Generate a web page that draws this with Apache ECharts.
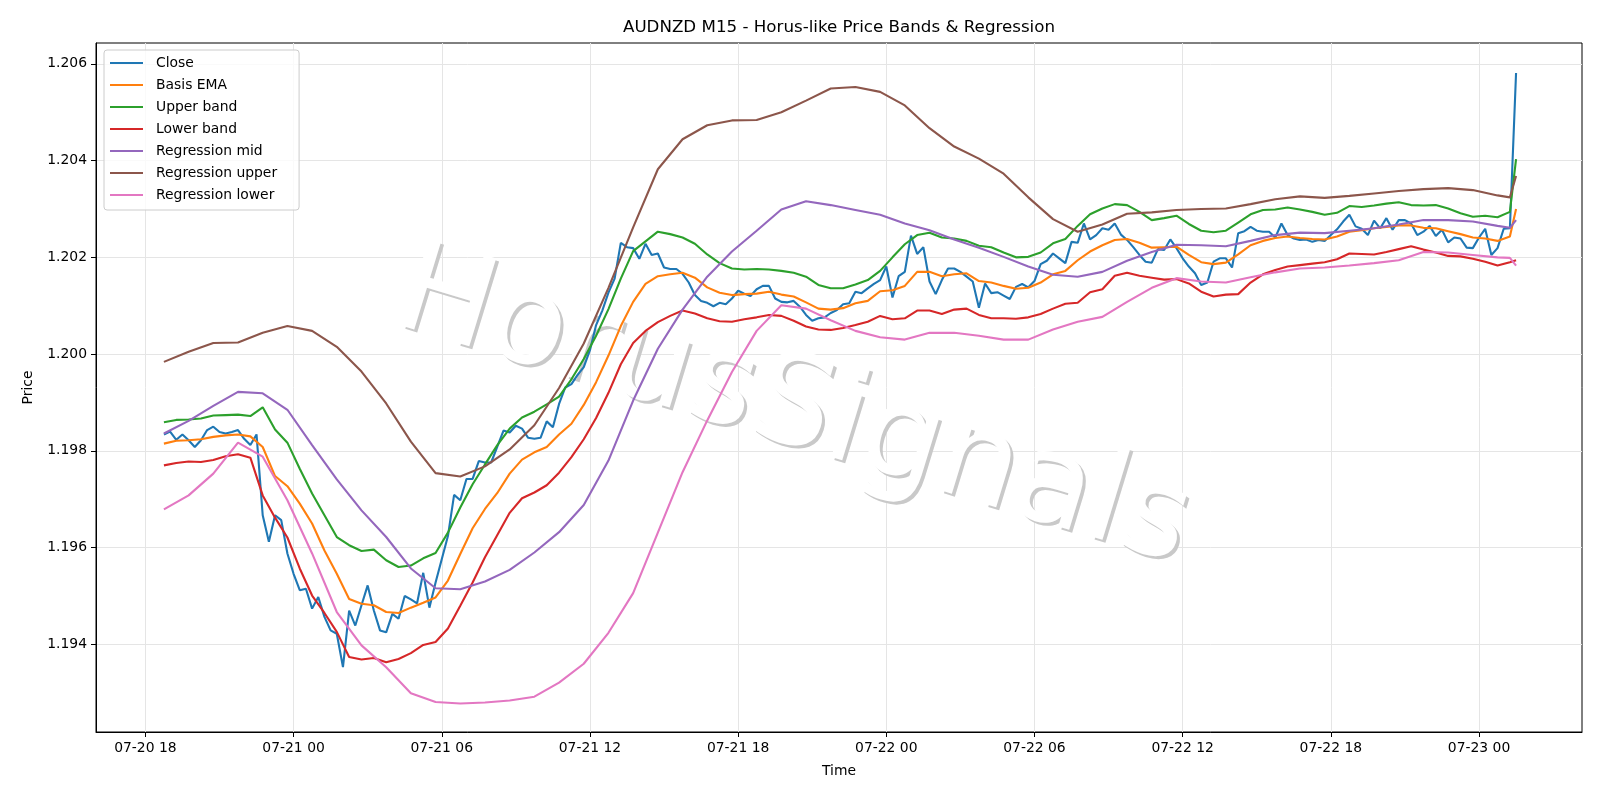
<!DOCTYPE html>
<html>
<head>
<meta charset="utf-8">
<title>AUDNZD M15 - Horus-like Price Bands & Regression</title>
<script src="https://cdn.jsdelivr.net/npm/echarts@6.0.0/dist/echarts.min.js"></script>
<style>
  html, body { margin: 0; padding: 0; background: #ffffff; }
  #chart { width: 1600px; height: 800px; }
</style>
</head>
<body>
<div id="chart"></div>
<script>
const FONT = 'DejaVu Sans'
const HOUR = 3600 * 1000
const BAR = 15 * 60 * 1000
const firstBar = Date.UTC(2025, 6, 20, 18, 45)   // first M15 bar
const dayStart = Date.UTC(2025, 6, 21, 0, 0)

const xTicks = [
  Date.UTC(2025, 6, 20, 18), Date.UTC(2025, 6, 21, 0), Date.UTC(2025, 6, 21, 6),
  Date.UTC(2025, 6, 21, 12), Date.UTC(2025, 6, 21, 18), Date.UTC(2025, 6, 22, 0),
  Date.UTC(2025, 6, 22, 6), Date.UTC(2025, 6, 22, 12), Date.UTC(2025, 6, 22, 18),
  Date.UTC(2025, 6, 23, 0)
]
const yTicks = [1.194, 1.196, 1.198, 1.200, 1.202, 1.204, 1.206]

const seriesNames = ['Close', 'Basis EMA', 'Upper band', 'Lower band',
  'Regression mid', 'Regression upper', 'Regression lower']
const seriesColors = ['#1f77b4', '#ff7f0e', '#2ca02c', '#d62728', '#9467bd', '#8c564b', '#e377c2']

// every 15 min bar
const closeValues = [
  1.19834, 1.19840, 1.19823, 1.19834, 1.19822, 1.19808, 1.19822, 1.19843, 1.19850, 1.19839,
  1.19836, 1.19839, 1.19843, 1.19825, 1.19812, 1.19834, 1.19667, 1.19612, 1.19667, 1.19657,
  1.19588, 1.19546, 1.19512, 1.19515, 1.19474, 1.19498, 1.19457, 1.19429, 1.19422, 1.19353,
  1.19470, 1.19439, 1.19481, 1.19522, 1.19470, 1.19429, 1.19425, 1.19463, 1.19453, 1.19500,
  1.19493, 1.19485, 1.19548, 1.19476, 1.19528, 1.19576, 1.19624, 1.19709, 1.19698, 1.19742,
  1.19742, 1.19779, 1.19776, 1.19776, 1.19809, 1.19842, 1.19838, 1.19852, 1.19846, 1.19827,
  1.19825, 1.19827, 1.19861, 1.19849, 1.19897, 1.19931, 1.19938, 1.19957, 1.19973, 1.20008,
  1.20060, 1.20090, 1.20127, 1.20156, 1.20230, 1.20221, 1.20219, 1.20197, 1.20228, 1.20205,
  1.20208, 1.20179, 1.20176, 1.20176, 1.20166, 1.20148, 1.20122, 1.20110, 1.20106, 1.20099,
  1.20106, 1.20103, 1.20115, 1.20131, 1.20125, 1.20120, 1.20134, 1.20141, 1.20141, 1.20115,
  1.20108, 1.20107, 1.20110, 1.20098, 1.20081, 1.20069, 1.20074, 1.20076, 1.20085, 1.20091,
  1.20103, 1.20105, 1.20129, 1.20126, 1.20136, 1.20145, 1.20153, 1.20181, 1.20117, 1.20161,
  1.20170, 1.20245, 1.20207, 1.20221, 1.20150, 1.20124, 1.20153, 1.20177, 1.20177, 1.20170,
  1.20160, 1.20150, 1.20096, 1.20146, 1.20126, 1.20128, 1.20121, 1.20114, 1.20139, 1.20145,
  1.20138, 1.20151, 1.20186, 1.20193, 1.20208, 1.20198, 1.20188, 1.20232, 1.20230, 1.20270,
  1.20237, 1.20246, 1.20260, 1.20257, 1.20270, 1.20247, 1.20236, 1.20221, 1.20205, 1.20191,
  1.20189, 1.20217, 1.20215, 1.20237, 1.20219, 1.20198, 1.20181, 1.20167, 1.20143, 1.20148,
  1.20191, 1.20198, 1.20198, 1.20179, 1.20250, 1.20254, 1.20263, 1.20255, 1.20253, 1.20253,
  1.20241, 1.20270, 1.20246, 1.20239, 1.20236, 1.20237, 1.20232, 1.20236, 1.20234, 1.20246,
  1.20258, 1.20274, 1.20288, 1.20264, 1.20259, 1.20246, 1.20276, 1.20260, 1.20281, 1.20257,
  1.20277, 1.20277, 1.20270, 1.20246, 1.20253, 1.20265, 1.20244, 1.20257, 1.20231, 1.20241,
  1.20239, 1.20220, 1.20219, 1.20241, 1.20259, 1.20205, 1.20219, 1.20259, 1.20260, 1.20581
]

// every 2nd bar (30 min) plus the last bar
const basisValues = [
  1.19815, 1.19821, 1.19822, 1.19824, 1.19829, 1.19832, 1.19834, 1.19830, 1.19808, 1.19748,
  1.19727, 1.19691, 1.19650, 1.19594, 1.19546, 1.19494, 1.19484, 1.19481, 1.19467, 1.19465,
  1.19476, 1.19486, 1.19497, 1.19532, 1.19587, 1.19640, 1.19680, 1.19713, 1.19753, 1.19782,
  1.19797, 1.19808, 1.19834, 1.19856, 1.19895, 1.19942, 1.19997, 1.20058, 1.20108, 1.20145,
  1.20161, 1.20165, 1.20168, 1.20158, 1.20138, 1.20127, 1.20122, 1.20124, 1.20125, 1.20129,
  1.20123, 1.20119, 1.20107, 1.20094, 1.20092, 1.20095, 1.20105, 1.20110, 1.20130, 1.20132,
  1.20141, 1.20170, 1.20170, 1.20161, 1.20165, 1.20167, 1.20151, 1.20148, 1.20141, 1.20135,
  1.20137, 1.20148, 1.20165, 1.20172, 1.20194, 1.20212, 1.20225, 1.20236, 1.20238, 1.20230,
  1.20220, 1.20221, 1.20222, 1.20205, 1.20190, 1.20186, 1.20189, 1.20206, 1.20225, 1.20234,
  1.20240, 1.20243, 1.20240, 1.20238, 1.20237, 1.20243, 1.20253, 1.20256, 1.20260, 1.20263,
  1.20266, 1.20266, 1.20261, 1.20260, 1.20254, 1.20248, 1.20241, 1.20239, 1.20234, 1.20243,
  1.20300
]
const upperValues = [
  1.19859, 1.19864, 1.19865, 1.19867, 1.19873, 1.19874, 1.19875, 1.19872, 1.19890, 1.19844,
  1.19817, 1.19763, 1.19712, 1.19667, 1.19622, 1.19605, 1.19593, 1.19596, 1.19574, 1.19560,
  1.19563, 1.19578, 1.19589, 1.19631, 1.19683, 1.19731, 1.19772, 1.19812, 1.19846, 1.19869,
  1.19881, 1.19896, 1.19912, 1.19948, 1.19990, 1.20038, 1.20093, 1.20156, 1.20213, 1.20233,
  1.20253, 1.20248, 1.20241, 1.20228, 1.20206, 1.20188, 1.20177, 1.20175, 1.20176, 1.20175,
  1.20172, 1.20168, 1.20160, 1.20143, 1.20136, 1.20136, 1.20144, 1.20153, 1.20172, 1.20200,
  1.20227, 1.20246, 1.20251, 1.20241, 1.20239, 1.20234, 1.20224, 1.20221, 1.20210, 1.20200,
  1.20201, 1.20210, 1.20229, 1.20238, 1.20265, 1.20289, 1.20301, 1.20310, 1.20308, 1.20294,
  1.20277, 1.20281, 1.20286, 1.20269, 1.20255, 1.20252, 1.20255, 1.20272, 1.20289, 1.20298,
  1.20299, 1.20303, 1.20299, 1.20294, 1.20288, 1.20292, 1.20306, 1.20304, 1.20307, 1.20311,
  1.20314, 1.20308, 1.20307, 1.20308, 1.20301, 1.20291, 1.20284, 1.20286, 1.20283, 1.20294,
  1.20403
]
const lowerValues = [
  1.19770, 1.19775, 1.19778, 1.19777, 1.19781, 1.19789, 1.19793, 1.19786, 1.19708, 1.19662,
  1.19621, 1.19557, 1.19501, 1.19465, 1.19426, 1.19374, 1.19369, 1.19372, 1.19363, 1.19370,
  1.19382, 1.19399, 1.19405, 1.19433, 1.19480, 1.19528, 1.19580, 1.19626, 1.19672, 1.19702,
  1.19714, 1.19729, 1.19755, 1.19787, 1.19824, 1.19868, 1.19920, 1.19979, 1.20023, 1.20048,
  1.20066, 1.20079, 1.20090, 1.20084, 1.20074, 1.20068, 1.20067, 1.20072, 1.20076, 1.20081,
  1.20079, 1.20069, 1.20057, 1.20051, 1.20050, 1.20054, 1.20060, 1.20067, 1.20079, 1.20072,
  1.20074, 1.20090, 1.20090, 1.20083, 1.20092, 1.20094, 1.20081, 1.20074, 1.20074, 1.20073,
  1.20076, 1.20083, 1.20094, 1.20104, 1.20106, 1.20128, 1.20134, 1.20162, 1.20168, 1.20162,
  1.20158, 1.20154, 1.20155, 1.20146, 1.20129, 1.20119, 1.20123, 1.20124, 1.20148, 1.20165,
  1.20174, 1.20181, 1.20184, 1.20187, 1.20190, 1.20196, 1.20208, 1.20207, 1.20206, 1.20211,
  1.20217, 1.20223, 1.20216, 1.20210, 1.20203, 1.20202, 1.20197, 1.20191, 1.20183, 1.20190,
  1.20194
]

// every 4th bar (hourly) plus the last two bars
const regMidValues = [
  1.19836, 1.19862, 1.19893, 1.19922, 1.19919, 1.19885, 1.19812, 1.19741, 1.19677, 1.19622,
  1.19557, 1.19516, 1.19514, 1.19530, 1.19554, 1.19590, 1.19632, 1.19688, 1.19780, 1.19904,
  1.20011, 1.20092, 1.20160, 1.20212, 1.20255, 1.20299, 1.20316, 1.20308, 1.20298, 1.20288,
  1.20270, 1.20256, 1.20237, 1.20220, 1.20201, 1.20181, 1.20164, 1.20160, 1.20170, 1.20193,
  1.20211, 1.20226, 1.20225, 1.20223, 1.20234, 1.20246, 1.20251, 1.20250, 1.20255, 1.20260,
  1.20268, 1.20277, 1.20277, 1.20274, 1.20265,
  1.20261, 1.20277
]
const regUpperValues = [
  1.19984, 1.20005, 1.20023, 1.20024, 1.20044, 1.20058, 1.20048, 1.20015, 1.19964, 1.19898,
  1.19819, 1.19754, 1.19747, 1.19768, 1.19803, 1.19853, 1.19930, 1.20022, 1.20137, 1.20262,
  1.20382, 1.20444, 1.20473, 1.20483, 1.20484, 1.20500, 1.20524, 1.20549, 1.20552, 1.20542,
  1.20514, 1.20467, 1.20429, 1.20404, 1.20373, 1.20324, 1.20279, 1.20253, 1.20268, 1.20290,
  1.20293, 1.20298, 1.20300, 1.20301, 1.20310, 1.20320, 1.20326, 1.20323, 1.20327, 1.20332,
  1.20337, 1.20341, 1.20343, 1.20339, 1.20328,
  1.20324, 1.20368
]
const regLowerValues = [
  1.19679, 1.19708, 1.19753, 1.19817, 1.19788, 1.19698, 1.19588, 1.19467, 1.19398, 1.19353,
  1.19299, 1.19281, 1.19278, 1.19280, 1.19284, 1.19292, 1.19321, 1.19360, 1.19424, 1.19506,
  1.19631, 1.19756, 1.19863, 1.19963, 1.20048, 1.20101, 1.20094, 1.20070, 1.20048, 1.20035,
  1.20030, 1.20044, 1.20044, 1.20038, 1.20030, 1.20030, 1.20051, 1.20067, 1.20077, 1.20108,
  1.20137, 1.20157, 1.20150, 1.20148, 1.20159, 1.20169, 1.20177, 1.20179, 1.20183, 1.20188,
  1.20194, 1.20211, 1.20210, 1.20205, 1.20200,
  1.20199, 1.20183
]

// bar numbers of the sampled series
const allBars = closeValues.map((v, i) => i)
const halfHourBars = []
for (let i = 0; i <= 218; i += 2) halfHourBars.push(i)
halfHourBars.push(219)
const hourBars = []
for (let i = 0; i <= 216; i += 4) hourBars.push(i)
hourBars.push(218, 219)

function toPoints(bars, values) {
  return values.map((v, k) => [firstBar + bars[k] * BAR, v])
}

function pad(n) {
  return String(n).padStart(2, '0')
}
function timeLabel(v) {
  const d = new Date(v)
  return pad(d.getUTCMonth() + 1) + '-' + pad(d.getUTCDate()) + ' ' + pad(d.getUTCHours())
}

const seriesData = [
  toPoints(allBars, closeValues),
  toPoints(halfHourBars, basisValues),
  toPoints(halfHourBars, upperValues),
  toPoints(halfHourBars, lowerValues),
  toPoints(hourBars, regMidValues),
  toPoints(hourBars, regUpperValues),
  toPoints(hourBars, regLowerValues)
]

// watermark: grey copy shifted down-right, white copy on top of it
const markAngle = -17 * Math.PI / 180
const markFont = '126px "DejaVu Sans"'
function watermark(dx, fill) {
  return {
    type: 'text',
    x: 793 + dx,
    y: 411 + dx,
    rotation: markAngle,
    z: 1,
    silent: true,
    style: {
      text: 'HorusSignals',
      fill: fill,
      font: markFont,
      textAlign: 'center',
      textVerticalAlign: 'middle'
    }
  }
}

const chart = echarts.init(document.getElementById('chart'), null, { renderer: 'canvas' })
chart.setOption({
  animation: false,
  backgroundColor: '#ffffff',
  textStyle: { fontFamily: FONT },
  grid: {
    left: 96,
    right: 18,
    top: 43,
    bottom: 68,
    show: true,
    borderColor: '#000000',
    borderWidth: 1,
    backgroundColor: 'transparent'
  },
  graphic: [
    {
      type: 'text',
      x: 839,
      y: 28,
      style: {
        text: 'AUDNZD M15 - Horus-like Price Bands & Regression',
        fill: '#000000',
        font: '16.7px "DejaVu Sans"',
        textAlign: 'center',
        textVerticalAlign: 'middle'
      }
    },
    watermark(3, '#c9c9c9'),
    watermark(0, '#ffffff')
  ],
  legend: {
    data: seriesNames,
    orient: 'vertical',
    left: 104,
    top: 50,
    icon: 'rect',
    itemWidth: 33,
    itemHeight: 2,
    itemGap: 6,
    padding: [5, 22, 7, 6],
    selectedMode: false,
    backgroundColor: 'rgba(255,255,255,0.8)',
    borderColor: '#cccccc',
    borderWidth: 1,
    borderRadius: 3,
    textStyle: {
      color: '#000000',
      fontSize: 13.9,
      fontFamily: FONT,
      lineHeight: 16,
      padding: [0, 0, 0, 8]
    }
  },
  xAxis: {
    type: 'value',
    min: dayStart - 8 * HOUR,
    max: dayStart + 52.17 * HOUR,
    name: 'Time',
    nameLocation: 'middle',
    nameGap: 32,
    nameTextStyle: { color: '#000000', fontSize: 13.9, fontFamily: FONT },
    axisLine: { show: true, onZero: false, lineStyle: { color: '#000000', width: 1 } },
    axisTick: { show: true, length: 5, customValues: xTicks, lineStyle: { color: '#000000', width: 1 } },
    axisLabel: {
      customValues: xTicks,
      formatter: timeLabel,
      color: '#000000',
      fontSize: 13.9,
      fontFamily: FONT,
      margin: 9
    },
    splitLine: { show: true, lineStyle: { color: '#e5e5e5', width: 1 } }
  },
  yAxis: {
    type: 'value',
    min: 1.19219,
    max: 1.20643,
    name: 'Price',
    nameLocation: 'middle',
    nameGap: 61,
    nameTextStyle: { color: '#000000', fontSize: 13.9, fontFamily: FONT },
    axisLine: { show: true, onZero: false, lineStyle: { color: '#000000', width: 1 } },
    axisTick: { show: true, length: 5, customValues: yTicks, lineStyle: { color: '#000000', width: 1 } },
    axisLabel: {
      customValues: yTicks,
      formatter: v => v.toFixed(3),
      color: '#000000',
      fontSize: 13.9,
      fontFamily: FONT,
      margin: 9
    },
    splitLine: { show: true, lineStyle: { color: '#e5e5e5', width: 1 } }
  },
  series: seriesNames.map((name, k) => ({
    name: name,
    type: 'line',
    data: seriesData[k],
    showSymbol: false,
    symbol: 'none',
    smooth: false,
    lineStyle: { color: seriesColors[k], width: 2.1 },
    itemStyle: { color: seriesColors[k] },
    emphasis: { disabled: true }
  }))
})
</script>
</body>
</html>
